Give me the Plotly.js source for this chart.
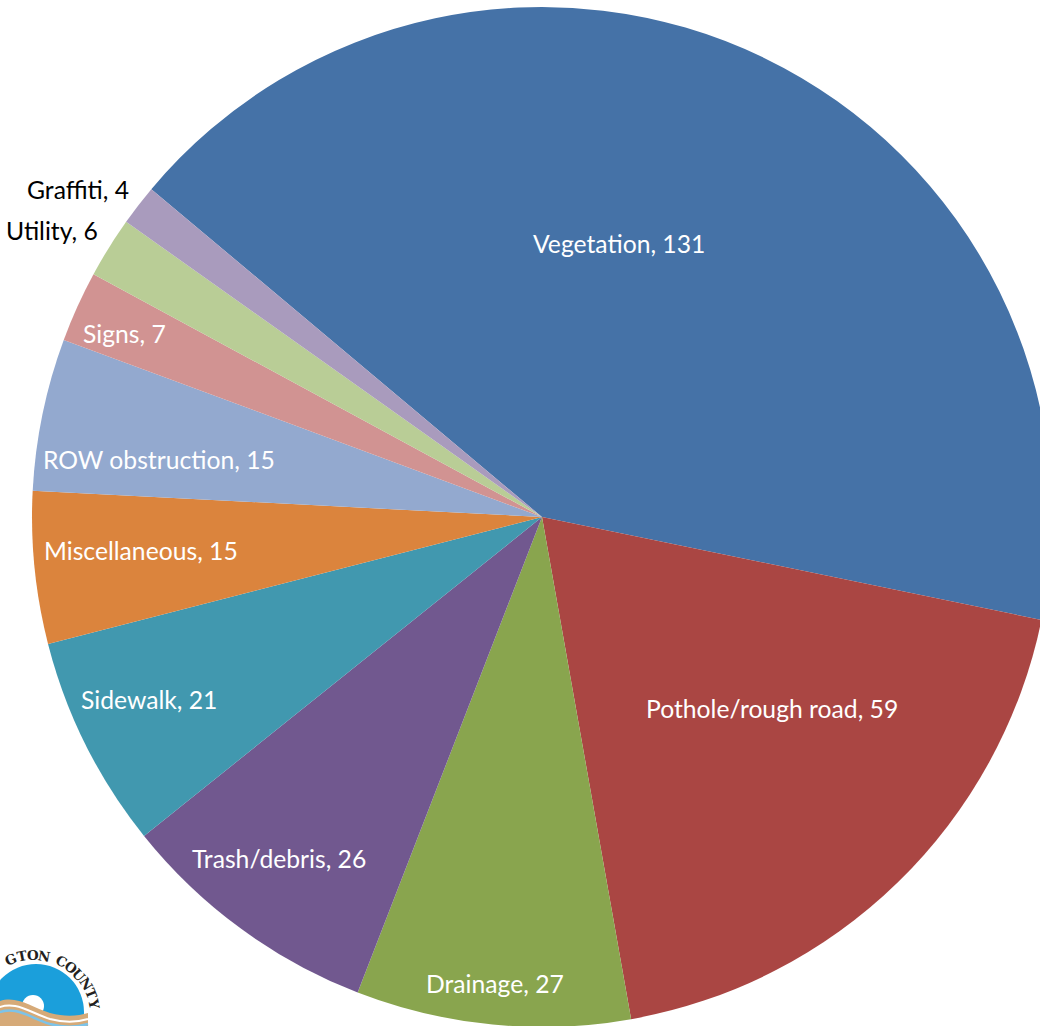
<!DOCTYPE html>
<html>
<head>
<meta charset="utf-8">
<script src="https://cdn.plot.ly/plotly-3.0.1.min.js"></script>
<style>
html, body { margin:0; padding:0; overflow:hidden; background:#ffffff; width:1040px; height:1026px; }
#chart { position:absolute; left:0; top:0; width:1052px; height:1027px; }
</style>
</head>
<body>
<div id="chart"></div>
<script>
// ---- data ----
const categories = ["Vegetation", "Pothole/rough road", "Drainage", "Trash/debris", "Sidewalk",
                    "Miscellaneous", "ROW obstruction", "Signs", "Utility", "Graffiti"];
const counts = [131, 59, 27, 26, 21, 15, 15, 7, 6, 4];

// ---- styles ----
const sliceColors = ["#4572A7", "#AA4643", "#89A54E", "#71588F", "#4198AF",
                     "#DB843D", "#93A9CF", "#D19392", "#B9CD96", "#A99BBD"];
const labelFont = "Lato, 'Noto Sans', sans-serif";
const labelSize = 24.7;

// ---- label placement (fraction of radius, angular shift in degrees from slice middle) ----
const labelRadius = [0.557, 0.588, 0.92, 0.845, 0.849, 0.79, 0.759, 0.894, 1.033, 1.03];
const labelAngleShift = [10.1, 6.0, -0.2, -1.4, -1.65, -0.9, 3.1, 0.7, -1.0, -0.85];
const labelOutside = [false, false, false, false, false, false, false, false, true, true];

const rotation = -50;   // first slice starts 50 deg counter-clockwise from 12 o'clock

// geometry of plot area (pixels) for decorative logo
const M = {l: 32, r: 0, t: 7, b: 0};
const plotW = 1020, plotH = 1020;
const P = px => (px - M.l) / plotW;
const Q = py => 1 - (py - M.t) / plotH;

// ---- pie label annotations derived from the data ----
const total = counts.reduce((a, b) => a + b, 0);
let angle = 90 - rotation;   // math degrees
const annotations = [];
counts.forEach((v, i) => {
  const span = v / total * 360;
  const mid = angle - span / 2;
  angle -= span;
  const a = (mid + labelAngleShift[i]) * Math.PI / 180;
  const f = labelRadius[i];
  annotations.push({
    xref: "paper", yref: "paper",
    x: 0.5 + 0.5 * f * Math.cos(a),
    y: 0.5 + 0.5 * f * Math.sin(a),
    xanchor: labelOutside[i] ? "right" : "center",
    yanchor: "middle",
    text: categories[i] + ", " + v,
    showarrow: false,
    font: {family: labelFont, size: labelSize, color: labelOutside[i] ? "#000000" : "#ffffff"}
  });
});

// ---- decorative county logo (partially cropped, bottom-left) ----
const logoText = "GTON COUNTY";
const logoCx = 34, logoCy = 1016, logoR = 61;
const logoStart = 112, logoStep = 10.5;
let logoAng = logoStart;
for (let k = 0; k < logoText.length; k++) {
  const ch = logoText[k];
  if (ch === " ") { logoAng -= logoStep * 0.6; continue; }
  const rad = logoAng * Math.PI / 180;
  const px = logoCx + logoR * Math.cos(rad);
  const py = logoCy - logoR * Math.sin(rad);
  annotations.push({
    xref: "paper", yref: "paper", x: P(px), y: Q(py),
    xanchor: "center", yanchor: "middle", showarrow: false,
    text: "<b>" + ch + "</b>", textangle: 90 - logoAng,
    font: {family: "'DejaVu Serif', 'Liberation Serif', serif", size: 13.5, color: "#231F20"}
  });
  logoAng -= logoStep;
}

function pathFrom(points) {
  return points.map(p => p[0] + " " + p.slice(1).map((c, j) => (j % 2 === 0 ? P(c) : Q(c)).toFixed(5)).join(",")).join(" ");
}

const shapes = [
  {type: "circle", xref: "paper", yref: "paper", x0: P(36 - 48), x1: P(36 + 48),
   y0: Q(1012 + 48), y1: Q(1012 - 48), fillcolor: "#1B9FDB", line: {width: 0}},
  {type: "circle", xref: "paper", yref: "paper", x0: P(22), x1: P(44), y0: Q(1017), y1: Q(995),
   fillcolor: "#ffffff", line: {width: 0}},
  {type: "path", xref: "paper", yref: "paper",
   path: pathFrom([["M", -5, 1003], ["C", 15, 993, 30, 1007, 50, 1013], ["C", 65, 1017, 78, 1016, 88, 1013],
                   ["L", 88, 1035], ["L", -5, 1035], ["Z"]]),
   fillcolor: "#D6AA78", line: {width: 0}},
  {type: "path", xref: "paper", yref: "paper",
   path: pathFrom([["M", -5, 1009], ["C", 15, 999, 30, 1013, 50, 1019], ["C", 65, 1023, 78, 1022, 88, 1019]]),
   line: {color: "#ffffff", width: 2}},
  {type: "path", xref: "paper", yref: "paper",
   path: pathFrom([["M", -5, 1014], ["C", 15, 1004, 30, 1018, 50, 1024], ["C", 65, 1028, 78, 1027, 88, 1024]]),
   line: {color: "#7DC3E8", width: 2.5}}
];

const trace = {
  type: "pie",
  labels: categories,
  values: counts,
  sort: false,
  direction: "clockwise",
  rotation: rotation,
  marker: {colors: sliceColors, line: {width: 0}},
  textinfo: "none",
  hoverinfo: "label+value",
  showlegend: false
};

const layout = {
  width: 1052, height: 1027,
  margin: M,
  paper_bgcolor: "#ffffff",
  plot_bgcolor: "#ffffff",
  showlegend: false,
  annotations: annotations,
  shapes: shapes
};

Plotly.newPlot("chart", [trace], layout, {displayModeBar: false, staticPlot: true});
</script>
</body>
</html>
